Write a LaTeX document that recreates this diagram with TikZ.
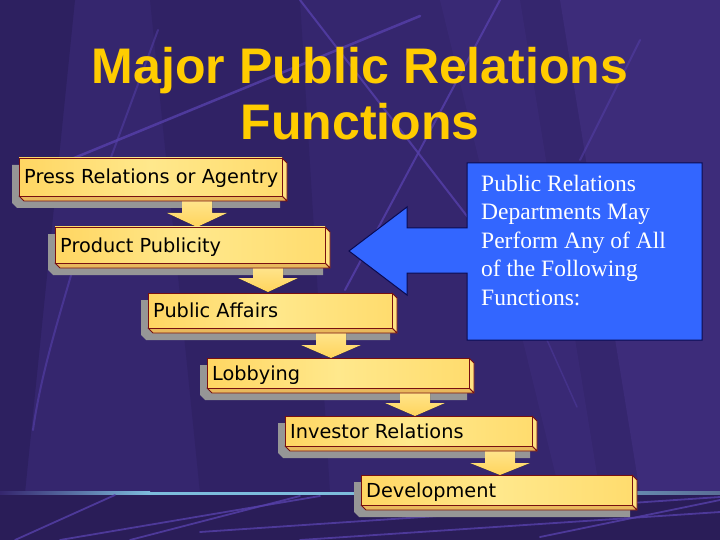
\documentclass[tikz,border=0pt]{standalone}
\usepackage{fontspec}
\setmainfont{Liberation Serif}
\newfontfamily\titlefont{Liberation Sans}
\newfontfamily\boxfont{DejaVu Sans}
\newfontfamily\calfont{Liberation Serif}
\definecolor{bgc}{RGB}{53,38,110}
\definecolor{bgdark}{RGB}{45,32,96}
\definecolor{bglight}{RGB}{61,44,122}
\definecolor{bandc}{RGB}{42,29,88}
\definecolor{streak}{RGB}{86,64,170}
\definecolor{lineblue}{RGB}{125,188,220}
\definecolor{linegrey}{RGB}{90,110,150}
\definecolor{titlec}{RGB}{255,204,0}
\definecolor{edgec}{RGB}{120,16,16}
\definecolor{ylwA}{RGB}{255,214,98}
\definecolor{ylwB}{RGB}{255,232,140}
\definecolor{ylwC}{RGB}{255,220,110}
\definecolor{sidec}{RGB}{255,226,130}
\definecolor{botc}{RGB}{232,184,92}
\definecolor{shadowc}{RGB}{150,150,150}
\definecolor{calblue}{RGB}{51,102,255}
\definecolor{caledge}{RGB}{10,10,80}
\definecolor{arrowtop}{RGB}{255,232,150}
\definecolor{arrowbot}{RGB}{255,212,92}
\newcommand\mkshadow[4]{\fill[shadowc] (#1-7,#2+7) -- (#3-7,#2+7) -- (#3-2,#2+12) -- (#3-2,#4+12) -- (#1-2,#4+12) -- (#1-7,#4+7) -- cycle;}
\newcommand\mkarrow[4]{\fill[top color=arrowtop,bottom color=arrowbot] (#1-15,#2) -- (#1+15,#2) -- (#1+15,#3) -- (#1+30,#3) -- (#1,#4) -- (#1-30,#3) -- (#1-15,#3) -- cycle;}
\newcommand\mkbox[6]{%
  \filldraw[sideface] (#4,#3) -- (#4+5,#3+5) -- (#4+5,#5+5) -- (#4,#5) -- cycle;
  \filldraw[botface] (#2,#5) -- (#4,#5) -- (#4+5,#5+5) -- (#2+5,#5+5) -- cycle;
  \pgfmathsetmacro\bw{#4-#2}\pgfmathsetmacro\bh{#5-#3}%
  \node[frontface, minimum width=\bw pt, minimum height=\bh pt, anchor=north west] (#1) at (#2,#3) {};
  \node[boxlabel, anchor=west] (#1t) at ([xshift=5pt]#1.west) {#6};
}
\begin{document}
\begin{tikzpicture}[x=1pt,y=-1pt,
  sideface/.style={fill=sidec, draw=edgec, line width=0.8pt, line join=round},
  botface/.style={fill=botc, draw=edgec, line width=0.8pt, line join=round},
  frontface/.style={draw=edgec, line width=0.8pt, inner sep=0pt, outer sep=0pt,
     left color=ylwA, right color=ylwC, middle color=ylwB},
  boxlabel/.style={inner sep=0pt, text height=14pt, text depth=0pt,
     font=\boxfont\fontsize{19.3}{22}\selectfont, text=black},
  streakline/.style={draw=streak, line width=2.5pt, line cap=round, opacity=0.8},
]
\useasboundingbox (0,0) rectangle (720,540);
% background
\fill[bgc] (0,0) rectangle (720,540);
\fill[bgdark] (0,0) -- (75,0) -- (25,493) -- (0,493) -- cycle;
\fill[bgdark, opacity=0.6] (150,0) -- (300,0) -- (330,493) -- (200,493) -- cycle;
\fill[bglight] (560,0) -- (720,0) -- (720,493) -- (640,493) -- cycle;
\fill[bglight, opacity=0.6] (440,0) -- (520,0) -- (600,493) -- (560,493) -- cycle;
% upper streaks
\draw[streakline] (40,172) -- (420,16);
\draw[streakline, line width=2pt] (300,0) -- (470,220);
\draw[streakline, line width=2pt] (500,0) -- (345,290);
\draw[streakline, line width=2pt, opacity=0.5] (158,30) -- (110,160);
\draw[streakline, line width=2pt, opacity=0.5] (640,40) -- (580,160);
\draw[streakline, line width=2pt, opacity=0.6] (72,272) .. controls (55,330) and (40,380) .. (33,430);
\draw[streakline, line width=1.5pt, opacity=0.4] (547,340) -- (577,407);
% bottom band
\fill[bandc] (0,493) rectangle (720,540);
\fill[left color=bgc, right color=lineblue] (0,491.5) rectangle (150,494.5);
\fill[lineblue] (150,491.5) rectangle (480,494.5);
\fill[left color=lineblue, right color=linegrey] (480,491.5) rectangle (720,494.5);
\draw[streakline, line width=1.8pt] (15,540) -- (115,495);
\draw[streakline, line width=1.8pt] (60,540) -- (320,496);
\draw[streakline, line width=1.8pt] (130,540) -- (300,496);
\draw[streakline, line width=1.8pt] (200,532) -- (720,497);
\draw[streakline, line width=1.8pt] (300,540) -- (720,512);
\draw[streakline, line width=1.8pt] (540,537) -- (720,500);
% title
\node[font=\titlefont\bfseries\fontsize{50}{56}\selectfont, text=titlec, align=center,
      inner sep=0pt, anchor=north] (title) at (360,47)
      {Major Public Relations\\Functions};
% callout
\filldraw[fill=calblue, draw=caledge, line width=1pt, line join=miter]
  (467,163) -- (702,163) -- (702,340) -- (467,340) -- (467,273) -- (407,273)
  -- (407,295) -- (349,251) -- (407,207) -- (407,228) -- (467,228) -- cycle;
\node[font=\calfont\fontsize{23.5}{28.5}\selectfont, text=white, align=left,
      inner sep=0pt, anchor=north west] (callout) at (481,174.5)
      {Public Relations\\Departments May\\Perform Any of All\\of the Following\\Functions:};
% shadows
\mkshadow{19}{158}{282}{196}
\mkshadow{55}{227}{325}{263}
\mkshadow{148}{293}{392}{328}
\mkshadow{207}{358}{469}{388}
\mkshadow{285}{416}{532}{446}
\mkshadow{361}{475}{632}{505}
% down arrows
\mkarrow{197}{195}{213}{227}
\mkarrow{268}{262}{278}{292}
\mkarrow{331}{327}{345}{358}
\mkarrow{415}{387}{403}{416}
\mkarrow{500}{445}{463}{475}
% boxes
\mkbox{b1}{19}{158}{282}{196}{Press Relations or Agentry}
\mkbox{b2}{55}{227}{325}{263}{Product Publicity}
\mkbox{b3}{148}{293}{392}{328}{Public Affairs}
\mkbox{b4}{207}{358}{469}{388}{Lobbying}
\mkbox{b5}{285}{416}{532}{446}{Investor Relations}
\mkbox{b6}{361}{475}{632}{505}{Development}
\end{tikzpicture}
\end{document}
